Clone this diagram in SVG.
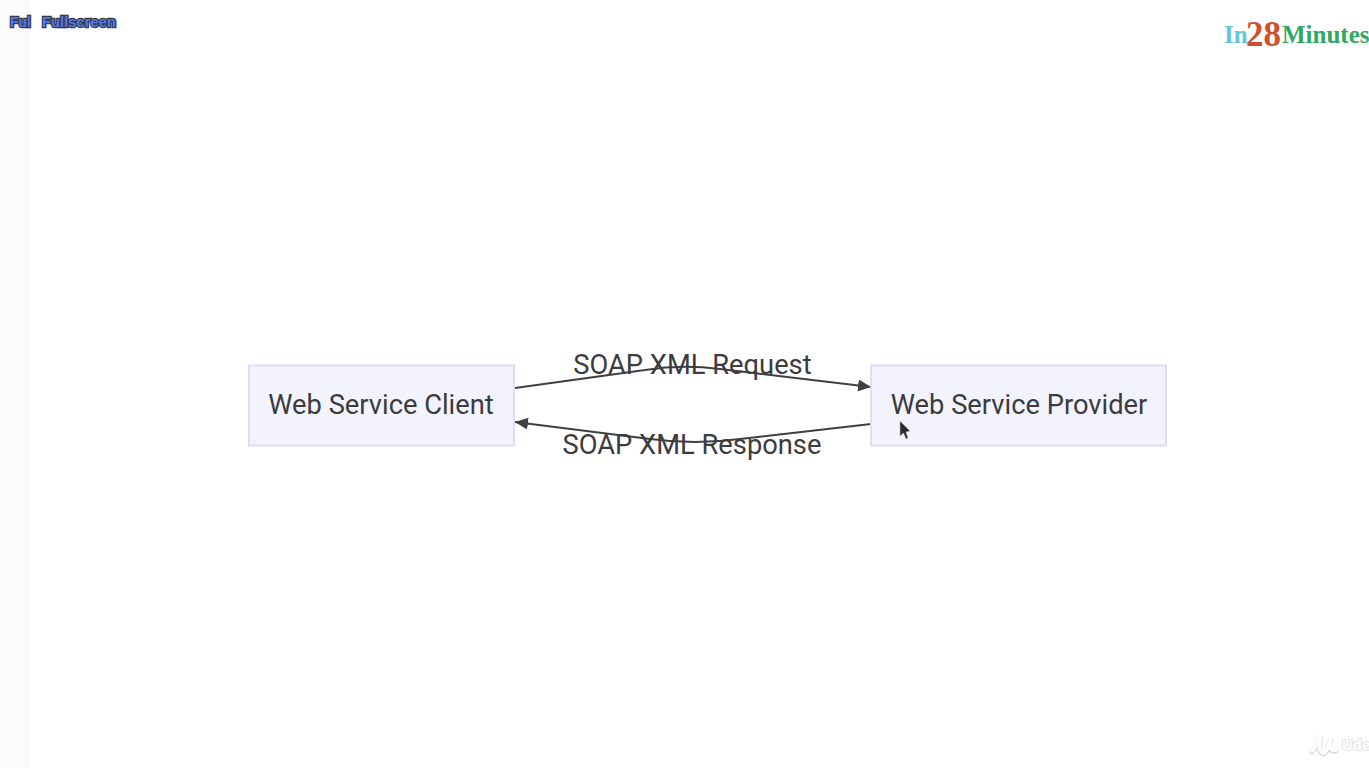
<svg xmlns="http://www.w3.org/2000/svg" width="1369" height="768" viewBox="0 0 1369 768">
<style>
.node{fill:#f3f3fe;stroke:#dedcf9;stroke-width:2}
.t{font-family:Roboto,"Liberation Sans",sans-serif;font-size:27.300px;fill:#3b3b40;text-anchor:middle}
.e{fill:none;stroke:#404040;stroke-width:2}
.fs{font-family:"Liberation Sans",sans-serif;font-size:15px;font-weight:bold;fill:#4d78e6;stroke:#3a3a48;stroke-width:2.600px;paint-order:stroke}
.logo{font-family:"Liberation Serif",serif;font-weight:bold}
.ud{font-family:"Liberation Sans",sans-serif;font-weight:bold;font-size:15px;fill:#fff;stroke:#e2e2e2;stroke-width:2px;paint-order:stroke}
</style>
<defs>
<marker id="arrow" markerUnits="userSpaceOnUse" markerWidth="14" markerHeight="12" refX="13" refY="6" orient="auto"><path d="M0 0L13 6L0 12Z" fill="#404040"/></marker>
</defs>
<rect width="1369" height="768" fill="#fff"/>
<rect width="30.500" height="768" fill="#fbfbf9"/>
<g id="fullscreen-labels">
<text class="fs" x="10" y="27" textLength="21" lengthAdjust="spacingAndGlyphs">Ful</text>
<text class="fs" x="42" y="27" textLength="74" lengthAdjust="spacingAndGlyphs">Fullscreen</text>
</g>
<g id="logo" class="logo">
<text x="1224" y="43" font-size="25" fill="#62c6dc">In</text>
<text x="1246" y="46" font-size="35" fill="#cf4f2f">28</text>
<text x="1282" y="43" font-size="25" fill="#2fa864">Minutes</text>
</g>
<g id="connectors">
<path class="e" marker-end="url(#arrow)" d="M515 388L645 370Q682 364 720 369L871 387"/>
<path class="e" marker-end="url(#arrow)" d="M871 424L740 439Q695 445 650 439L515 422"/>
</g>
<g id="client">
<rect class="node" x="249" y="365.500" width="265" height="80"/>
<text class="t" x="381" y="414">Web Service Client</text>
</g>
<g id="provider">
<rect class="node" x="871" y="365.500" width="295" height="80"/>
<text class="t" x="1019" y="414">Web Service Provider</text>
</g>
<g id="edge-labels">
<text class="t" x="692.500" y="374">SOAP XML Request</text>
<text class="t" x="692" y="454">SOAP XML Response</text>
</g>
<g id="cursor">
<path d="M900 421V436L903.500 433L906 439L908 438L906 432L910 431Z" fill="#2a2a30" stroke="#bbb" stroke-width=".6"/>
</g>
<g id="udemy-mark">
<path d="M1312 752C1315 749 1318 742 1321 736C1319 745 1318 752 1323 754C1327 754 1329 745 1331 738C1329 747 1330 753 1336 751" fill="none" stroke="#dcdcdc" stroke-width="5" stroke-linecap="round"/>
<path d="M1312 751C1315 748 1318 741 1321 735C1319 744 1318 751 1323 753C1327 753 1329 744 1331 737C1329 746 1330 752 1336 750" fill="none" stroke="#fff" stroke-width="3.500" stroke-linecap="round"/>
<text class="ud" x="1342" y="750">Ude</text>
</g>
</svg>
